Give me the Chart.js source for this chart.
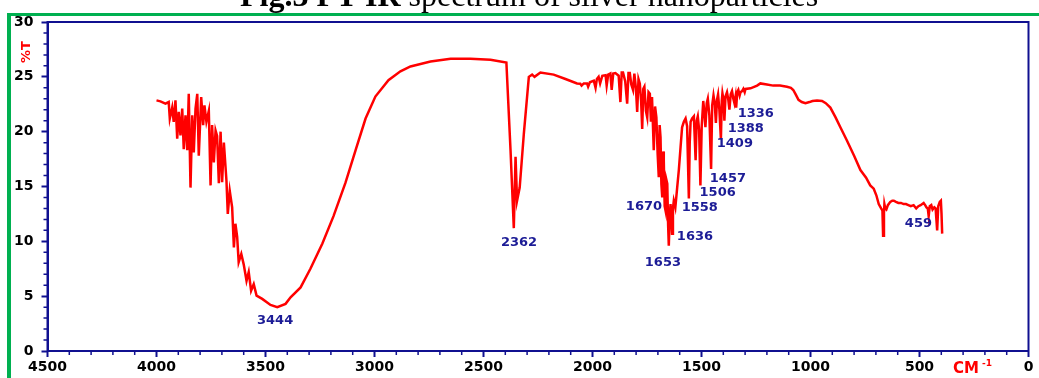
<!DOCTYPE html>
<html><head><meta charset="utf-8">
<script src="https://cdn.jsdelivr.net/npm/chart.js@4"></script>
<style>html,body{margin:0;padding:0;background:#fff;overflow:hidden}#wrap{position:relative;width:1039px;height:378px}</style>
</head><body><div id="wrap"><canvas id="c" width="1039" height="378"></canvas></div>
<script>
// ---- data (cm-1, %T) ----
const wavenumbers = [
4000,3982,3959,3944,3939,3928,3921,3913,3905,3898,3890,3882,3875,3867,3859,3852,3844,3836,3829,3821,3813,3806,3795,3786,3780,3771,3760,3752,3745,3737,3729,3722,3714,3706,3699,3691,3679,3673,3664,3653,3645,3638,3630,3623,3611,3600,3587,3577,3566,3554,3541,3515,3477,3446,3408,3385,
3339,3294,3239,3188,3133,3087,3041,2996,2936,2881,2835,2743,2651,2560,2468,2395,
2376,2361,2353,2346,2334,2315,2292,2277,2266,2239,2178,2124,2071,
2056,2050,2040,2025,2020,2012,1994,1986,1980,1972,1965,1955,1940,1935,1928,1918,1912,1905,1895,1880,1872,1866,1860,1850,1841,1835,1829,1822,1814,1808,1801,1795,1789,1783,1777,1772,1767,1762,1755,1749,1743,1737,1732,1727,1719,1713,1707,1701,1696,1692,1688,1684,1680,1676,1673,1669,1665,1661,1657,1653,1650,
1646,1642,1635,1631,1627,1620,1612,1604,1596,1589,1581,1573,1566,1558,1554,1550,1543,1535,1527,1522,1517,1511,1505,1499,1492,1487,1482,1476,1471,1464,1456,1451,1445,1439,1434,1429,1424,1418,1411,1407,1404,1399,1395,1390,1383,1377,1372,1366,1360,1354,1349,1344,1341,1336,1331,1325,1321,1314,1308,1302,
1298,1275,1245,1230,1200,1171,1140,1108,1090,1079,1068,1055,1040,1023,1005,991,970,947,930,909,885,863,833,800,771,745,726,710,698,687,676,670,667,663,661,657,652,645,634,625,618,608,597,585,573,562,551,540,527,515,505,495,481,474,468,462,458,453,446,440,432,426,419,414,407,402,399,396
];
const transmittance = [
22.85,22.76,22.55,22.7,21.2,22.2,20.9,22.85,19.35,21.8,19.65,22.1,18.4,21.5,18.3,23.45,14.9,21.5,18.1,22.1,23.45,17.8,23.15,20.6,22.4,20.9,21.9,15.1,20.6,17.2,20.1,19.6,15.3,20.0,15.4,19.0,15.5,12.5,14.6,13.1,9.45,11.6,10.4,8.1,8.85,7.9,6.4,7.2,5.5,6.1,5.05,4.75,4.2,4.0,4.3,4.9,
5.8,7.5,9.8,12.3,15.35,18.3,21.2,23.2,24.7,25.5,25.95,26.4,26.65,26.65,26.55,26.3,
18.3,11.2,17.7,13.7,14.9,19.8,25.0,25.2,25.0,25.4,25.2,24.8,24.4,
24.37,24.2,24.4,24.4,24.1,24.5,24.65,24.0,24.8,25.0,24.4,25.1,25.15,24.2,25.2,25.3,23.8,25.3,25.35,25.1,22.7,25.4,25.4,24.6,22.55,25.35,25.35,24.3,23.8,25.3,24.0,21.8,24.8,24.4,22.8,20.25,23.9,24.1,21.9,21.3,23.6,23.45,20.9,23.15,18.3,22.3,21.3,17.9,15.85,20.6,19.5,15.2,14.0,18.2,17.4,13.2,12.8,15.6,15.25,11.4,9.6,
12.2,13.4,10.7,13.0,13.7,13.1,14.8,16.5,18.6,20.4,20.9,21.2,20.5,13.9,19.0,20.9,21.2,21.4,17.4,21.0,21.4,20.2,15.1,20.5,22.8,21.8,20.4,22.6,23.0,21.5,16.6,22.4,23.3,22.5,20.8,22.9,23.4,22.0,19.3,22.8,23.5,22.9,21.0,23.2,23.6,22.9,22.0,23.4,23.7,23.0,22.6,23.2,22.2,23.6,23.8,23.3,23.6,23.7,23.9,23.6,
23.9,23.95,24.2,24.4,24.3,24.2,24.2,24.1,24.0,23.8,23.4,22.9,22.7,22.6,22.7,22.8,22.85,22.8,22.6,22.2,21.3,20.4,19.2,17.8,16.5,15.8,15.1,14.8,14.2,13.4,13.0,12.8,10.5,12.6,13.4,13.0,12.9,13.3,13.6,13.7,13.7,13.6,13.5,13.5,13.4,13.4,13.3,13.2,13.3,13.0,13.2,13.3,13.5,13.3,13.1,13.0,12.3,13.2,13.3,12.9,13.1,13.0,11.0,13.2,13.6,13.7,12.5,10.7
];
// tick labels
const xTickValues = [4500,4000,3500,3000,2500,2000,1500,1000,500,0];
const yTickValues = [0,5,10,15,20,25,30];
// peak annotations (text and anchor in data units)
const peakLabels = ['3444','2362','1670','1653','1636','1558','1506','1457','1409','1388','1336','459'];
const peakLabelWn = [3456,2337,1764,1677,1530,1508,1426,1379,1347,1297,1251,505];
const peakLabelT  = [2.73,9.84,13.12,8.02,10.39,13.03,14.4,15.76,18.95,20.32,21.68,11.57];

const titleBold = 'Fig.3 FT-IR ';
const titleRest = 'spectrum of silver nanoparticles';
const yTitle = '%T';
const xTitle = 'CM';
const xTitleSup = '-1';

const NAVY = '#101090';
const LABEL_BLUE = '#1c1c96';
const RED = '#ff0000';
const GREEN = '#00b050';

Chart.defaults.font.family = 'DejaVu Sans';

const decor = {
  id: 'decor',
  afterDraw(chart) {
    const ctx = chart.ctx;
    const {left, right, top, bottom} = chart.chartArea;
    const xs = chart.scales.x, ys = chart.scales.y;
    ctx.save();
    // frame
    ctx.strokeStyle = NAVY; ctx.lineWidth = 2;
    ctx.strokeRect(left, top, right - left, bottom - top);
    // minor ticks
    ctx.lineWidth = 1.5;
    ctx.beginPath();
    for (let v = 100; v < 4500; v += 100) {
      if (v % 500 === 0) continue;
      const px = xs.getPixelForValue(v);
      ctx.moveTo(px, bottom); ctx.lineTo(px, bottom + 4);
    }
    for (let v = 1; v < 30; v += 1) {
      if (v % 5 === 0) continue;
      const py = ys.getPixelForValue(v);
      ctx.moveTo(left - 4, py); ctx.lineTo(left, py);
    }
    ctx.stroke();
    // peak labels
    ctx.fillStyle = LABEL_BLUE;
    ctx.font = 'bold 13px "DejaVu Sans"';
    ctx.textAlign = 'center'; ctx.textBaseline = 'middle';
    peakLabels.forEach((t, i) => {
      ctx.fillText(t, xs.getPixelForValue(peakLabelWn[i]), ys.getPixelForValue(peakLabelT[i]));
    });
    // axis titles
    ctx.fillStyle = RED;
    ctx.save();
    ctx.translate(27, 52); ctx.rotate(-Math.PI / 2);
    ctx.font = 'bold 13px "DejaVu Sans"';
    ctx.fillText(yTitle, 0, 0);
    ctx.restore();
    ctx.textAlign = 'left'; ctx.textBaseline = 'alphabetic';
    ctx.font = 'bold 15px "DejaVu Sans"';
    ctx.fillText(xTitle, 953, 373);
    ctx.font = 'bold 9px "DejaVu Sans"';
    ctx.fillText(xTitleSup, 982, 366);
    // title (cut at top)
    ctx.fillStyle = '#000';
    ctx.font = 'bold 32px "Liberation Serif"';
    ctx.fillText(titleBold, 240, 6);
    const w = ctx.measureText(titleBold).width;
    ctx.font = '32px "Liberation Serif"';
    ctx.fillText(titleRest, 240 + w, 6);
    // green border
    ctx.fillStyle = GREEN;
    ctx.fillRect(7, 13, 1032, 3);
    ctx.fillRect(7, 13, 4, 365);
    ctx.restore();
  }
};

new Chart(document.getElementById('c'), {
  type: 'line',
  data: {
    datasets: [{
      data: wavenumbers.map((w, i) => ({x: w, y: transmittance[i]})),
      borderColor: RED, borderWidth: 2.5, pointRadius: 0, tension: 0, fill: false
    }]
  },
  options: {
    responsive: false, animation: false,
    layout: {padding: {top: 22, right: 10.5, left: 0, bottom: 0}},
    plugins: {legend: {display: false}, tooltip: {enabled: false}},
    scales: {
      x: {
        type: 'linear', reverse: true, min: 0, max: 4500,
        afterBuildTicks: s => { s.ticks = xTickValues.map(v => ({value: v})); },
        afterFit: s => { s.height = 27; },
        grid: {drawOnChartArea: false, drawTicks: true, tickLength: 6, tickColor: NAVY, tickWidth: 2},
        border: {display: true, color: NAVY, width: 2},
        ticks: {color: '#000', font: {weight: 'bold', size: 14}, padding: 2, maxRotation: 0, autoSkip: false, callback: v => String(v)}
      },
      y: {
        min: 0, max: 30,
        afterBuildTicks: s => { s.ticks = yTickValues.map(v => ({value: v})); },
        afterFit: s => { s.width = 47.5; },
        grid: {drawOnChartArea: false, drawTicks: true, tickLength: 6, tickColor: NAVY, tickWidth: 2},
        border: {display: true, color: NAVY, width: 2},
        ticks: {color: '#000', font: {weight: 'bold', size: 14}, padding: 8, autoSkip: false, callback: v => String(v)}
      }
    }
  },
  plugins: [decor]
});
</script></body></html>
